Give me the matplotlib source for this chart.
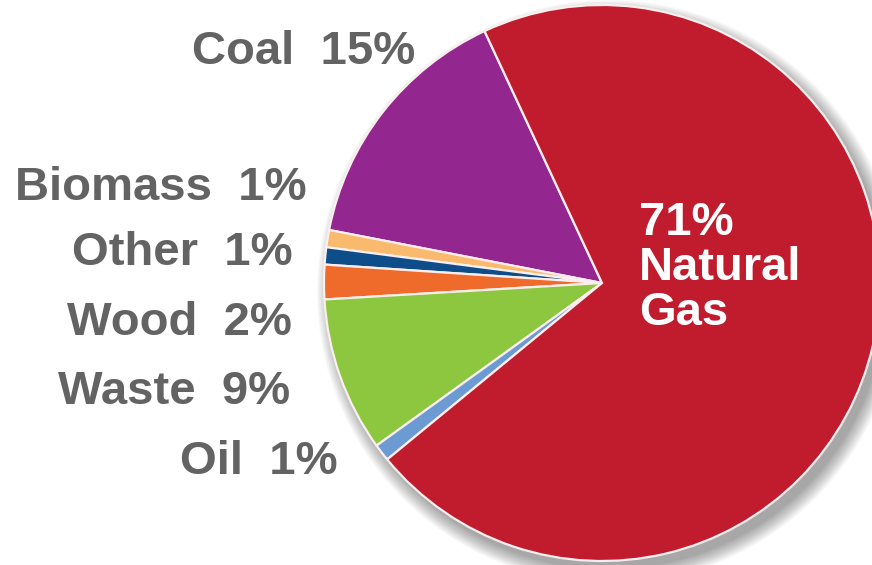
import matplotlib.pyplot as plt
from matplotlib.patches import Circle

# energy mix, counter-clockwise from the top boundary of the gas slice
sources = ['Coal', 'Biomass', 'Other', 'Wood', 'Waste', 'Oil', 'Natural Gas']
shares = [15, 1, 1, 2, 9, 1, 71]
colors = ['#93278F', '#F9BA6E', '#0D4E8A', '#EE6B2C', '#8DC63F', '#6C9BD3', '#C01C2D']

# label anchors (right edge, vertical centre) for the small slices
label_x = [415, 307, 293, 292, 290, 338]
label_y = [52, 188, 253, 323, 392, 462]

W, H = 872, 565
fig = plt.figure(figsize=(W / 100, H / 100), dpi=100)
ax = fig.add_axes([0, 0, 1, 1])

cx, cy, r = 602, H - 283, 278

# soft drop shadow towards the lower right
for i in range(16):
    ax.add_patch(Circle((cx + 7, cy - 9), r + 14 - i, color='black',
                        alpha=0.025, lw=0, zorder=0))

ax.pie(shares, colors=colors, startangle=115, counterclock=True,
       center=(cx, cy), radius=r, frame=True,
       wedgeprops=dict(edgecolor='#fbeeee', linewidth=1.6))
ax.set_xlim(0, W)
ax.set_ylim(0, H)
ax.set_aspect('equal')
ax.axis('off')

font = dict(family=['Liberation Sans', 'DejaVu Sans'], fontweight='bold', fontsize=34)
for name, pct, x, y in zip(sources[:-1], shares[:-1], label_x, label_y):
    ax.text(x, H - y, f'{name}  {pct}%', color='#636363', ha='right', va='center', **font)

ax.text(639, H - 268, f'{shares[-1]}%\nNatural\nGas', color='white', ha='left',
        va='center', linespacing=1.03, **font)

fig.savefig('out.png', dpi=100)
